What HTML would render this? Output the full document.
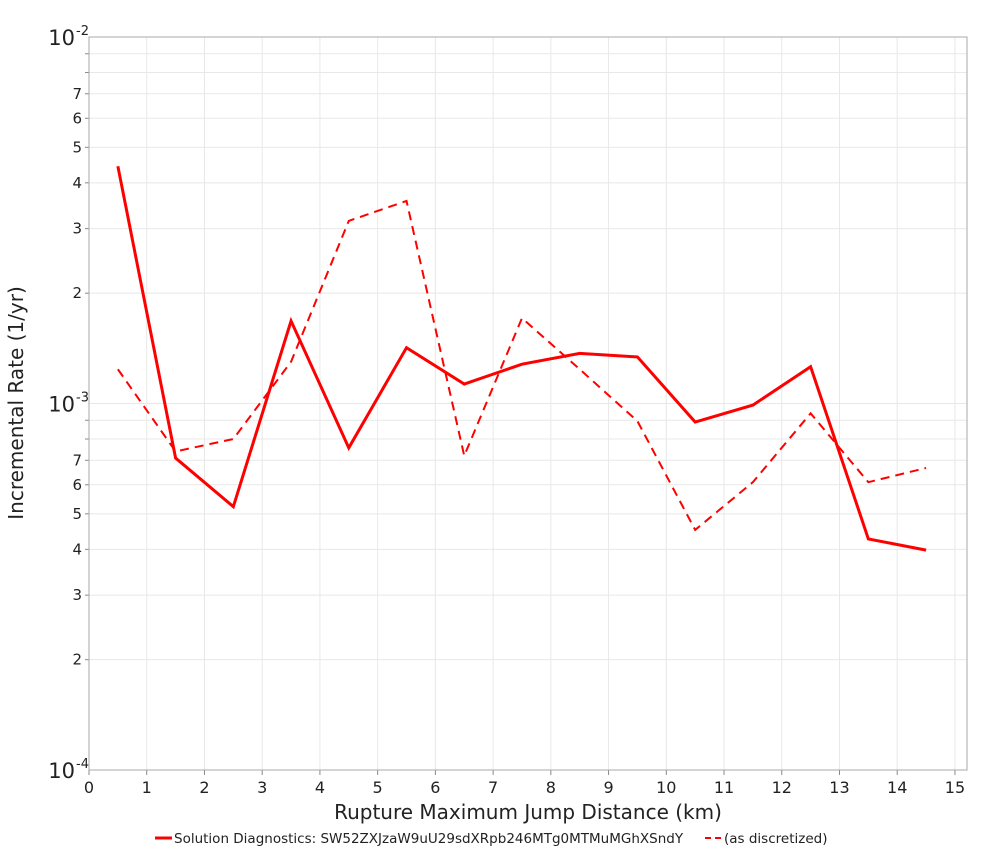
<!DOCTYPE html>
<html><head><meta charset="utf-8"><style>
body{margin:0;background:#fff;font-family:"DejaVu Sans","Liberation Sans",sans-serif}
svg text{font-family:"DejaVu Sans","Liberation Sans",sans-serif}
</style></head><body>
<svg id="chart" width="1000" height="850" xmlns="http://www.w3.org/2000/svg"></svg>
<script>
const xCats=[0.5,1.5,2.5,3.5,4.5,5.5,6.5,7.5,8.5,9.5,10.5,11.5,12.5,13.5,14.5];
const solidVals=[4.44e-3,7.1e-4,5.23e-4,1.68e-3,7.57e-4,1.42e-3,1.13e-3,1.28e-3,1.37e-3,1.34e-3,8.9e-4,9.9e-4,1.26e-3,4.27e-4,3.98e-4];
const dashedVals=[1.24e-3,7.4e-4,8.0e-4,1.30e-3,3.15e-3,3.57e-3,7.2e-4,1.71e-3,1.24e-3,8.95e-4,4.52e-4,6.1e-4,9.4e-4,6.1e-4,6.67e-4];
const xTicks=[0,1,2,3,4,5,6,7,8,9,10,11,12,13,14,15];
const minorLabels=[2,3,4,5,6,7];
const L=89,R=967,T=37,B=770;
const NS="http://www.w3.org/2000/svg";
const svg=document.getElementById('chart');
function X(v){return L+v*57.73;}
function Y(v){return B-(Math.log10(v)+4)/2*(B-T);}
function el(t,a,txt){const e=document.createElementNS(NS,t);for(const k in a)e.setAttribute(k,a[k]);if(txt!==undefined)e.textContent=txt;svg.appendChild(e);return e;}
const g1=el('rect',{x:L,y:T,width:R-L,height:B-T,fill:'#fff',stroke:'none'});


for(const t of xTicks){
  el('line',{x1:X(t),x2:X(t),y1:T,y2:B,stroke:'#e8e8e8'});
  el('line',{x1:X(t),x2:X(t),y1:B,y2:B+5,stroke:'#888'});
  const lb=el('text',{x:X(t),y:B+23,'text-anchor':'middle','font-size':16,fill:'#222'},String(t));
  
  
}
for(let d=-4;d<-2;d++){
  for(let m=2;m<=9;m++){
    const v=m*Math.pow(10,d);
    el('line',{x1:L,x2:R,y1:Y(v),y2:Y(v),stroke:'#e8e8e8'});
    el('line',{x1:L-4,x2:L,y1:Y(v),y2:Y(v),stroke:'#888'});
    if(minorLabels.includes(m)){
      const lb=el('text',{x:L-7,y:Y(v)+5,'text-anchor':'end','font-size':15,fill:'#222'},String(m));
      
      
    }
  }
}
for(const d of [-4,-3,-2]){
  const v=Math.pow(10,d);
  el('line',{x1:L,x2:R,y1:Y(v),y2:Y(v),stroke:'#e8e8e8'});
  const t=el('text',{x:L-14,y:Y(v)+8,'text-anchor':'end','font-size':21,fill:'#222'},'10');
  
  
  el('text',{x:L-13,y:Y(v)-2,'text-anchor':'start','font-size':13,fill:'#222'},String(d));
}
el('rect',{x:L,y:T,width:R-L,height:B-T,fill:'none',stroke:'#aaa'});
function line(vals,dash,name){
  const p=vals.map((v,i)=>X(xCats[i])+','+Y(v)).join(' ');
  const e=el('polyline',{points:p,fill:'none',stroke:'#f00','stroke-width':dash?2:3,'stroke-dasharray':dash?'9,6':'none'});
  
  
}
line(dashedVals,true,'discretized-series');
line(solidVals,false,'solution-series');
const xt=el('text',{x:528,y:819,'text-anchor':'middle','font-size':20,fill:'#222'},'Rupture Maximum Jump Distance (km)');


const yt=el('text',{x:0,y:0,'text-anchor':'middle','font-size':20,fill:'#222',transform:'translate(23,403) rotate(-90)'},'Incremental Rate (1/yr)');


el('line',{x1:155,x2:172,y1:838,y2:838,stroke:'#f00','stroke-width':3});
const l1=el('text',{x:174,y:843,'font-size':13.5,fill:'#222'},'Solution Diagnostics: SW52ZXJzaW9uU29sdXRpb246MTg0MTMuMGhXSndY');


el('line',{x1:705,x2:722,y1:838,y2:838,stroke:'#f00','stroke-width':2,'stroke-dasharray':'6,4'});
const l2=el('text',{x:724,y:843,'font-size':13.5,fill:'#222'},'(as discretized)');


</script>
</body></html>
